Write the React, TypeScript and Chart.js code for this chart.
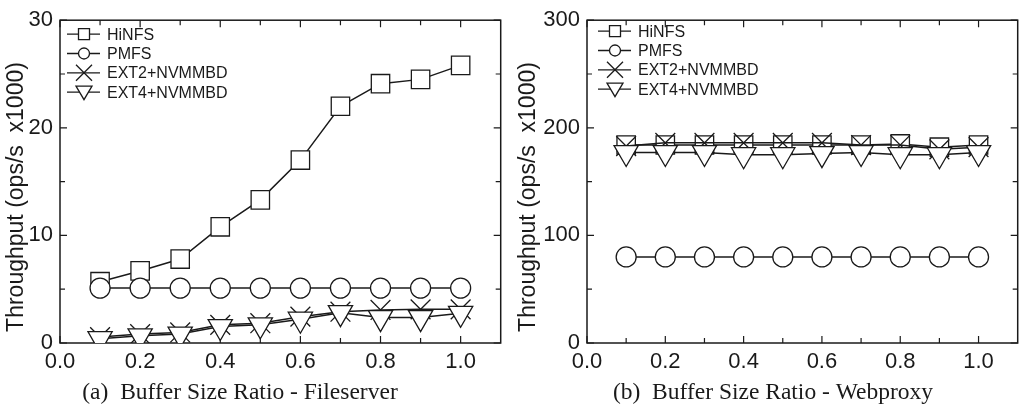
import React, { useEffect, useRef } from 'react';
import { Chart, registerables } from 'chart.js';

Chart.register(...registerables);

// ---------- data ----------
const ratios = [0.1, 0.2, 0.3, 0.4, 0.5, 0.6, 0.7, 0.8, 0.9, 1.0];
const seriesNames = ['HiNFS', 'PMFS', 'EXT2+NVMMBD', 'EXT4+NVMMBD'];

const fileserverHiNFS = [5.7, 6.7, 7.8, 10.8, 13.3, 17.0, 22.0, 24.1, 24.5, 25.8];
const fileserverPMFS = [5.1, 5.1, 5.1, 5.1, 5.1, 5.1, 5.1, 5.1, 5.1, 5.1];
const fileserverEXT2 = [0.55, 0.83, 0.98, 1.69, 1.84, 2.45, 2.91, 3.07, 3.13, 3.13];
const fileserverEXT4 = [0.4, 0.67, 0.83, 1.53, 1.69, 2.21, 2.82, 2.36, 2.36, 2.76];

const webproxyHiNFS = [184, 184, 184, 184, 184, 184, 184, 185, 182, 184];
const webproxyPMFS = [80, 80, 80, 80, 80, 80, 80, 80, 80, 80];
const webproxyEXT2 = [183, 186, 186, 186, 186, 186, 184, 184, 180, 182];
const webproxyEXT4 = [177, 177, 177, 175, 175, 176, 177, 175, 175, 177];

const xTickLabels = [0, 0.2, 0.4, 0.6, 0.8, 1.0];
const xMinorTicks = [0.1, 0.3, 0.5, 0.7, 0.9];
const fileserverYTicks = [0, 10, 20, 30];
const fileserverYMinor = [5, 15, 25];
const webproxyYTicks = [0, 100, 200, 300];
const webproxyYMinor = [50, 150, 250];

const yTitle = 'Throughput (ops/s  x1000)';
const fileserverTitle = '(a)  Buffer Size Ratio - Fileserver';
const webproxyTitle = '(b)  Buffer Size Ratio - Webproxy';

// ---------- styling ----------
const INK = '#1a1a1a';
const SANS = '"Liberation Sans", Arial, sans-serif';
const SERIF = '"Liberation Serif", "DejaVu Serif", serif';
const markerStyles = ['rect', 'circle', 'crossRot', 'triangle'];
const markerRadius = [13, 10, 14, 14];
const markerRotation = [0, 0, 0, 180];
const drawOrder = [4, 3, 2, 1];

function drawMarker(ctx: CanvasRenderingContext2D, style: string, x: number, y: number, r: number) {
  ctx.beginPath();
  if (style === 'rect') {
    ctx.rect(x - r, y - r, 2 * r, 2 * r);
    ctx.fill();
    ctx.stroke();
  } else if (style === 'circle') {
    ctx.arc(x, y, r, 0, Math.PI * 2);
    ctx.fill();
    ctx.stroke();
  } else if (style === 'crossRot') {
    ctx.moveTo(x - r, y - r);
    ctx.lineTo(x + r, y + r);
    ctx.moveTo(x + r, y - r);
    ctx.lineTo(x - r, y + r);
    ctx.stroke();
  } else {
    ctx.moveTo(x - r, y - r * 0.75);
    ctx.lineTo(x + r, y - r * 0.75);
    ctx.lineTo(x, y + r * 0.95);
    ctx.closePath();
    ctx.fill();
    ctx.stroke();
  }
}

const decorPlugin = {
  id: 'decor',
  beforeDatasetsDraw(chart: any, _args: any, opts: any) {
    const { ctx, chartArea } = chart;
    const { left, right, top, bottom } = chartArea;
    const xs = chart.scales.x;
    const ys = chart.scales.y;
    ctx.save();
    ctx.strokeStyle = INK;
    ctx.lineWidth = 1.5;
    ctx.strokeRect(left, top, right - left, bottom - top);
    ctx.lineWidth = 1.2;
    ctx.beginPath();
    const tick = (v: number, len: number) => {
      const px = xs.getPixelForValue(v);
      ctx.moveTo(px, bottom);
      ctx.lineTo(px, bottom - len);
      ctx.moveTo(px, top);
      ctx.lineTo(px, top + len);
    };
    opts.xMajor.forEach((v: number) => tick(v, 7));
    opts.xMinor.forEach((v: number) => tick(v, 5));
    const ytick = (v: number, len: number) => {
      const py = ys.getPixelForValue(v);
      ctx.moveTo(left, py);
      ctx.lineTo(left + len, py);
      ctx.moveTo(right, py);
      ctx.lineTo(right - len, py);
    };
    opts.yMajor.forEach((v: number) => ytick(v, 7));
    opts.yMinor.forEach((v: number) => ytick(v, 5));
    ctx.stroke();
    ctx.restore();
  },
  afterDraw(chart: any, _args: any, opts: any) {
    const { ctx, chartArea } = chart;
    ctx.save();
    ctx.fillStyle = INK;
    // y title
    ctx.save();
    ctx.translate(opts.yTitleX, opts.yTitleY);
    ctx.rotate(-Math.PI / 2);
    ctx.font = `23px ${SANS}`;
    ctx.textAlign = 'center';
    ctx.textBaseline = 'middle';
    ctx.fillText(yTitle, 0, 0);
    ctx.restore();
    // x title
    ctx.font = `23.5px ${SERIF}`;
    ctx.textAlign = 'center';
    ctx.textBaseline = 'middle';
    ctx.fillText(opts.xTitle, opts.xTitleX, opts.xTitleY);
    // legend
    ctx.strokeStyle = INK;
    ctx.fillStyle = '#fff';
    ctx.lineWidth = 1.3;
    seriesNames.forEach((name, i) => {
      const y = chartArea.top + opts.legendTop + i * 19.3;
      const x0 = chartArea.left + opts.legendLeft;
      ctx.beginPath();
      ctx.moveTo(x0, y);
      ctx.lineTo(x0 + 33, y);
      ctx.stroke();
      const r = [5.5, 5.5, 8, 8][i];
      ctx.fillStyle = '#fff';
      drawMarker(ctx, markerStyles[i], x0 + 17, y, r);
      ctx.fillStyle = INK;
      ctx.font = `16px ${SANS}`;
      ctx.textAlign = 'left';
      ctx.textBaseline = 'middle';
      ctx.fillText(name, x0 + 40, y + 1);
    });
    ctx.restore();
  },
};

type PanelProps = {
  series: number[][];
  yMax: number;
  yTicks: number[];
  yMinor: number[];
  yAxisWidth: number;
  padRight: number;
  title: string;
  titleX: number;
  yTitleX: number;
  legendLeft: number;
  legendTop: number;
  width: number;
  left: number;
};

function Panel(p: PanelProps) {
  const ref = useRef<HTMLCanvasElement | null>(null);
  useEffect(() => {
    if (!ref.current) return;
    const datasets = p.series.map((vals, i) => ({
      label: seriesNames[i],
      data: vals.map((v, j) => ({ x: ratios[j], y: v })),
      borderColor: INK,
      borderWidth: 1.5,
      backgroundColor: '#fff',
      pointStyle: markerStyles[i] as any,
      pointRadius: markerRadius[i],
      pointRotation: markerRotation[i],
      pointBorderColor: INK,
      pointBackgroundColor: '#fff',
      pointBorderWidth: 1.3,
      tension: 0,
      fill: false,
      order: drawOrder[i],
      clip: 0,
    }));
    const chart = new Chart(ref.current, {
      type: 'line',
      data: { datasets },
      plugins: [decorPlugin],
      options: {
        animation: false,
        responsive: false,
        events: [],
        layout: { padding: { top: 17, right: p.padRight, left: 0, bottom: 0 } },
        scales: {
          x: {
            type: 'linear',
            min: 0,
            max: 1.1,
            grid: { display: false, drawTicks: false },
            border: { display: false },
            afterBuildTicks: (s: any) => {
              s.ticks = xTickLabels.map((v) => ({ value: v }));
            },
            afterFit: (s: any) => {
              s.height = 67;
            },
            ticks: {
              padding: 6,
              color: INK,
              font: { family: SANS, size: 22 },
              maxRotation: 0,
              autoSkip: false,
              callback: (v: any) => Number(v).toFixed(1),
            },
          },
          y: {
            type: 'linear',
            min: 0,
            max: p.yMax,
            grid: { display: false, drawTicks: false },
            border: { display: false },
            afterBuildTicks: (s: any) => {
              s.ticks = p.yTicks.map((v) => ({ value: v }));
            },
            afterFit: (s: any) => {
              s.width = p.yAxisWidth;
            },
            ticks: {
              padding: 7,
              color: INK,
              font: { family: SANS, size: 22 },
              autoSkip: false,
              callback: (v: any) => String(v),
            },
          },
        },
        plugins: {
          legend: { display: false },
          tooltip: { enabled: false },
          decor: {
            xMajor: xTickLabels,
            xMinor: xMinorTicks,
            yMajor: p.yTicks,
            yMinor: p.yMinor,
            yTitleX: p.yTitleX,
            yTitleY: 197,
            xTitle: p.title,
            xTitleX: p.titleX,
            xTitleY: 393,
            legendLeft: p.legendLeft,
            legendTop: p.legendTop,
          },
        } as any,
      },
    } as any);
    return () => chart.destroy();
  }, []);
  return (
    <canvas
      ref={ref}
      width={p.width}
      height={410}
      style={{ position: 'absolute', left: p.left, top: 0, width: p.width, height: 410 }}
    />
  );
}

export default function App() {
  return (
    <div style={{ position: 'absolute', left: 0, top: 0, width: 1033, height: 410, background: '#fff' }}>
      <Panel
        series={[fileserverHiNFS, fileserverPMFS, fileserverEXT2, fileserverEXT4]}
        yMax={30}
        yTicks={fileserverYTicks}
        yMinor={fileserverYMinor}
        yAxisWidth={60}
        padRight={14}
        title={fileserverTitle}
        titleX={240}
        yTitleX={17}
        legendLeft={7}
        legendTop={14}
        width={516}
        left={0}
      />
      <Panel
        series={[webproxyHiNFS, webproxyPMFS, webproxyEXT2, webproxyEXT4]}
        yMax={300}
        yTicks={webproxyYTicks}
        yMinor={webproxyYMinor}
        yAxisWidth={71}
        padRight={3}
        title={webproxyTitle}
        titleX={257}
        yTitleX={13}
        legendLeft={11}
        legendTop={11}
        width={517}
        left={516}
      />
    </div>
  );
}
